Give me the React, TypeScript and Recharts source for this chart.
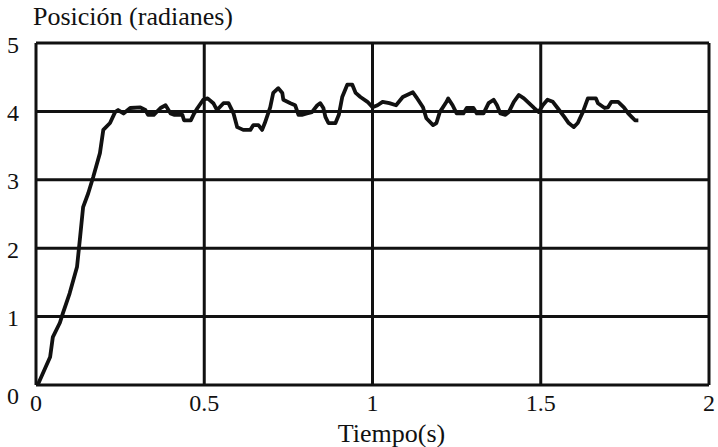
import { LineChart, Line, XAxis, YAxis, CartesianGrid, Label } from "recharts";

// position response of the servo, sampled off the plot trace
const TIME = [
  0.005, 0.042, 0.05, 0.071, 0.08, 0.1, 0.122, 0.131, 0.14, 0.155, 0.17, 0.19, 0.2, 0.22, 0.235,
  0.244, 0.26, 0.28, 0.31, 0.325, 0.333, 0.35, 0.37, 0.385, 0.4, 0.41, 0.435, 0.44, 0.46, 0.47, 0.48,
  0.497, 0.51, 0.527, 0.538, 0.557, 0.572, 0.587, 0.598, 0.616, 0.637, 0.646, 0.661, 0.672, 0.68,
  0.696, 0.705, 0.72, 0.732, 0.735, 0.756, 0.77, 0.78, 0.79, 0.805, 0.82, 0.836, 0.845, 0.854, 0.86,
  0.869, 0.89, 0.9, 0.91, 0.925, 0.94, 0.95, 0.964, 0.985, 1.0, 1.015, 1.03, 1.05, 1.07, 1.09, 1.12,
  1.13, 1.15, 1.16, 1.18, 1.19, 1.2, 1.22, 1.225, 1.238, 1.25, 1.27, 1.28, 1.3, 1.31, 1.33, 1.345,
  1.36, 1.37, 1.38, 1.395, 1.405, 1.42, 1.435, 1.45, 1.465, 1.48, 1.494, 1.506, 1.52, 1.536, 1.55,
  1.57, 1.583, 1.598, 1.61, 1.625, 1.64, 1.664, 1.67, 1.69, 1.7, 1.71, 1.73, 1.747, 1.76, 1.77, 1.78,
  1.79,
];
const POSITION = [
  0, 0.41, 0.7, 0.91, 1.05, 1.34, 1.73, 2.16, 2.6, 2.8, 3.04, 3.39, 3.73, 3.83, 3.99,
  4.02, 3.97, 4.05, 4.06, 4.02, 3.95, 3.95, 4.05, 4.09, 3.97, 3.95, 3.95, 3.87, 3.87, 3.97, 4.05,
  4.17, 4.19, 4.12, 4.02, 4.12, 4.12, 3.97, 3.77, 3.73, 3.73, 3.8, 3.8, 3.73, 3.83,
  4.06, 4.27, 4.34, 4.27, 4.17, 4.12, 4.09, 3.95, 3.95, 3.97, 3.99, 4.09, 4.12, 4.05, 3.92,
  3.83, 3.83, 3.95, 4.21, 4.39, 4.39, 4.27, 4.21, 4.14, 4.06, 4.09, 4.14, 4.12, 4.09, 4.21, 4.28,
  4.21, 4.06, 3.9, 3.8, 3.83, 3.99, 4.14, 4.19, 4.09, 3.97, 3.97, 4.05, 4.05, 3.97, 3.97, 4.12,
  4.17, 4.09, 3.97, 3.95, 3.99, 4.14, 4.24, 4.19, 4.12, 4.05, 3.99, 4.09, 4.17, 4.14, 4.05,
  3.92, 3.83, 3.77, 3.83, 3.99, 4.19, 4.19, 4.12, 4.05, 4.06, 4.14, 4.14, 4.06, 3.97, 3.92, 3.87,
  3.87,
];
const X_TICKS = [0, 0.5, 1, 1.5, 2];
const Y_TICKS = [0, 1, 2, 3, 4, 5];

const data = TIME.map((t, i) => ({ t, pos: POSITION[i] }));

const FONT = "Liberation Serif, Times New Roman, serif";
const INK = "#111";

// y labels sit slightly under their gridlines; the zero one drops clear of the x "0"
function YTick({ x, y, payload }: any) {
  const dy = payload.value === 0 ? 13 : 4;
  return (
    <text x={x} y={y + dy} textAnchor="end" dominantBaseline="middle" fill={INK} fontSize={24} fontFamily={FONT}>
      {payload.value}
    </text>
  );
}

export default function App() {
  return (
    <div style={{ position: "absolute", left: 0, top: 0, width: 718, height: 447, background: "#fff" }}>
      <div
        style={{
          position: "absolute",
          left: 33,
          top: 2,
          fontFamily: FONT,
          fontSize: 26,
          color: INK,
          lineHeight: "30px",
          whiteSpace: "nowrap",
        }}
      >
        Posición (radianes)
      </div>
      <LineChart width={718} height={447} data={data} margin={{ top: 43, right: 9, bottom: 0, left: 0 }}>
        <CartesianGrid stroke={INK} strokeWidth={3} />
        <XAxis
          dataKey="t"
          type="number"
          domain={[0, 2]}
          ticks={X_TICKS}
          height={62}
          axisLine={false}
          tickLine={false}
          tickSize={0}
          tickMargin={9}
          tick={{ fill: INK, fontSize: 24, fontFamily: FONT }}
        >
          <Label value="Tiempo(s)" position="insideBottom" offset={5} dx={19} fill={INK} fontSize={26} fontFamily={FONT} />
        </XAxis>
        <YAxis
          type="number"
          domain={[0, 5]}
          ticks={Y_TICKS}
          width={36}
          axisLine={false}
          tickLine={false}
          tickSize={0}
          tickMargin={17}
          tick={<YTick />}
        />
        <Line
          type="linear"
          dataKey="pos"
          stroke={INK}
          strokeWidth={3.8}
          strokeLinejoin="round"
          dot={false}
          isAnimationActive={false}
        />
      </LineChart>
    </div>
  );
}
